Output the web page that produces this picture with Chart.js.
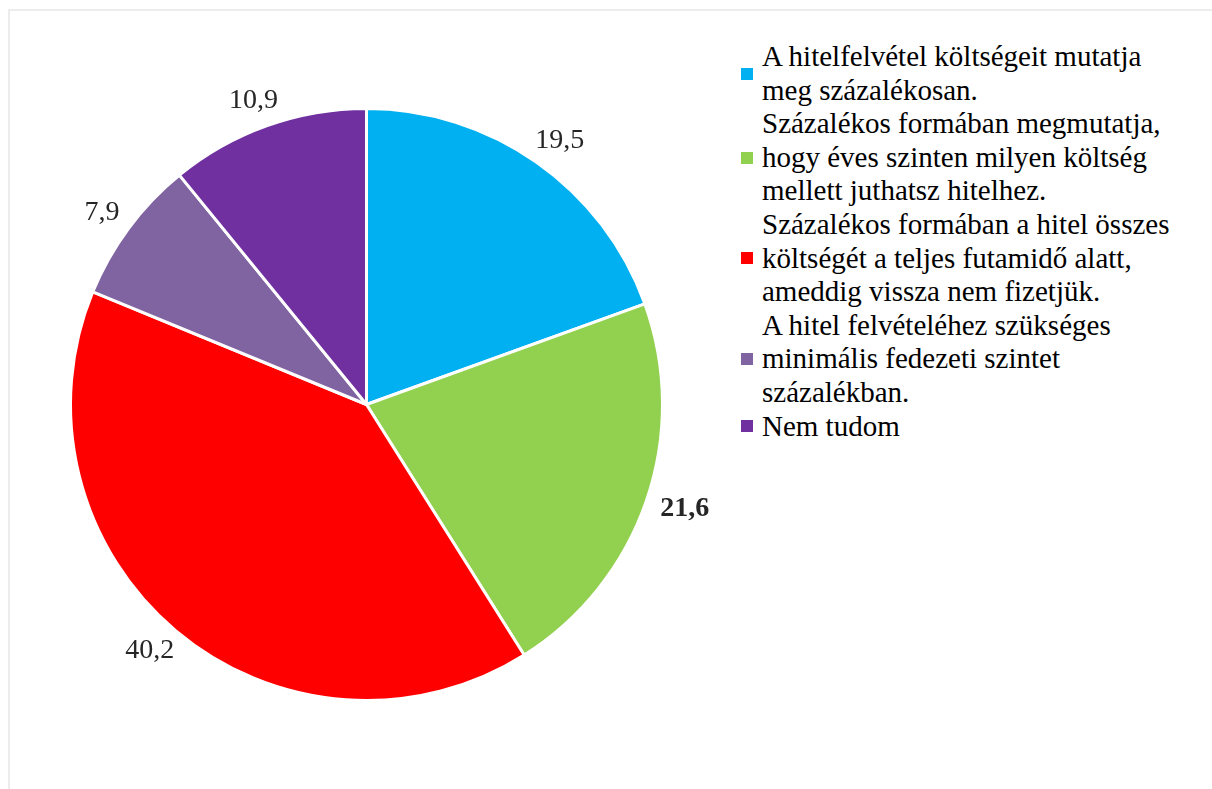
<!DOCTYPE html>
<html lang="hu">
<head>
<meta charset="utf-8">
<script src="https://cdn.jsdelivr.net/npm/chart.js@4/dist/chart.umd.min.js"></script>
<style>
  html, body { margin: 0; padding: 0; background: #fff; width: 1212px; height: 789px; overflow: hidden; }
  #frame { position: absolute; left: 8px; top: 9px; width: 1300px; height: 900px;
           border-top: 2px solid #ececec; border-left: 2px solid #ececec; }
  #wrap { position: absolute; left: 0; top: 0; width: 740px; height: 789px; }
  #legend { position: absolute; left: 741px; top: 40px; font-family: "Liberation Serif", "Times New Roman", serif;
            font-size: 29px; line-height: 33.6px; color: #000; }
  .item { display: flex; align-items: center; }
  .mk { width: 12px; height: 12px; flex: none; margin-right: 9px; }
  .txt { white-space: nowrap; }
</style>
</head>
<body>
<div id="frame"></div>
<div id="wrap"><canvas id="c" width="740" height="789"></canvas></div>
<div id="legend"></div>
<script>
// ---- data ----
const categories = [
  ["A hitelfelvétel költségeit mutatja", "meg százalékosan."],
  ["Százalékos formában megmutatja,", "hogy éves szinten milyen költség", "mellett juthatsz hitelhez."],
  ["Százalékos formában a hitel összes", "költségét a teljes futamidő alatt,", "ameddig vissza nem fizetjük."],
  ["A hitel felvételéhez szükséges", "minimális fedezeti szintet", "százalékban."],
  ["Nem tudom"]
];
const values = [19.5, 21.6, 40.2, 7.9, 10.9];
const colors = ["#00B0F0", "#92D050", "#FF0000", "#8064A2", "#7030A0"];

// ---- legend (HTML) ----
const legend = document.getElementById('legend');
categories.forEach((lines, i) => {
  const item = document.createElement('div');
  item.className = 'item';
  const mk = document.createElement('div');
  mk.className = 'mk';
  mk.style.background = colors[i];
  const txt = document.createElement('div');
  txt.className = 'txt';
  txt.innerHTML = lines.map(l => l.replace(/&/g, '&amp;').replace(/</g, '&lt;')).join('<br>');
  item.appendChild(mk);
  item.appendChild(txt);
  legend.appendChild(item);
});

// ---- data label plugin ----
const outsideLabels = {
  id: 'outsideLabels',
  afterDatasetsDraw(chart, args, opts) {
    const ctx = chart.ctx;
    const meta = chart.getDatasetMeta(0);
    const ds = chart.data.datasets[0];
    ctx.save();
    meta.data.forEach((arc, i) => {
      const p = arc.getProps(['x', 'y', 'startAngle', 'endAngle', 'outerRadius'], true);
      const mid = (p.startAngle + p.endAngle) / 2;
      const ux = Math.cos(mid), uy = Math.sin(mid);
      const bold = (opts.boldIndex || []).includes(i);
      ctx.font = (bold ? 'bold ' : '') + opts.size + 'px "Liberation Serif", "Times New Roman", serif';
      const text = ds.data[i].toFixed(1).replace('.', ',');
      const w = ctx.measureText(text).width;
      const h = opts.size * 0.72;
      const r = p.outerRadius + opts.gap;
      const cx = p.x + r * ux + ux * w / 2;
      const cy = p.y + r * uy + uy * h / 2;
      ctx.fillStyle = opts.color;
      ctx.textAlign = 'center';
      ctx.textBaseline = 'middle';
      ctx.fillText(text, cx, cy);
    });
    ctx.restore();
  }
};

new Chart(document.getElementById('c'), {
  type: 'pie',
  data: {
    labels: categories.map(l => l.join(' ')),
    datasets: [{
      data: values,
      backgroundColor: colors,
      borderColor: '#ffffff',
      borderWidth: 3
    }]
  },
  options: {
    responsive: false,
    animation: false,
    layout: { padding: { left: 69, top: 107, right: 76, bottom: 87 } },
    plugins: {
      legend: { display: false },
      tooltip: { enabled: false },
      outsideLabels: { size: 28, gap: 16, color: '#262626', boldIndex: [1] }
    }
  },
  plugins: [outsideLabels]
});
</script>
</body>
</html>
